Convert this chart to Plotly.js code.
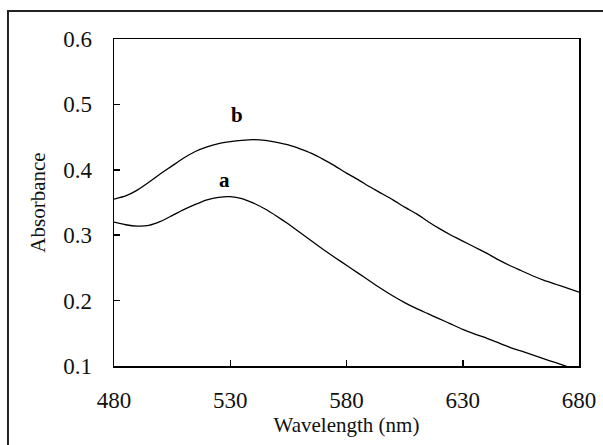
<!DOCTYPE html>
<html>
<head>
<meta charset="utf-8">
<script src="https://cdn.plot.ly/plotly-3.0.1.min.js"></script>
<style>html,body{margin:0;padding:0;background:#fff;}#chart{width:603px;height:445px;}</style>
</head>
<body>
<div id="chart"></div>
<script>
var wavelengthB = [480,485,490,495,500,505,510,515,520,525,530,535,540,545,550,555,560,565,570,575,580,585,590,595,600,605,610,615,620,625,630,635,640,645,650,655,660,665,670,675,680];
var absorbanceB = [0.355,0.360,0.369,0.381,0.394,0.406,0.418,0.428,0.435,0.440,0.443,0.445,0.446,0.445,0.442,0.438,0.432,0.425,0.416,0.406,0.395,0.385,0.374,0.364,0.354,0.343,0.333,0.321,0.310,0.300,0.291,0.282,0.273,0.263,0.254,0.246,0.238,0.231,0.225,0.219,0.213];
var wavelengthA = [480,485,490,495,500,505,510,515,520,525,530,535,540,545,550,555,560,565,570,575,580,585,590,595,600,605,610,615,620,625,630,635,640,645,650,655,660,665,670,675];
var absorbanceA = [0.320,0.316,0.314,0.315,0.321,0.330,0.339,0.347,0.354,0.358,0.359,0.356,0.349,0.340,0.329,0.317,0.304,0.291,0.278,0.266,0.254,0.242,0.230,0.218,0.207,0.197,0.188,0.180,0.172,0.164,0.156,0.149,0.143,0.136,0.129,0.123,0.117,0.111,0.105,0.099];
var xTicks = [480,530,580,630,680];
var yTicks = [0.1,0.2,0.3,0.4,0.5,0.6];
var curveLabels = [{text:'a', x:527.7, y:0.384},{text:'b', x:533, y:0.484}];

var font = "Times New Roman, Liberation Serif, serif";
var traces = [
  {x: wavelengthA, y: absorbanceA, mode:'lines', line:{color:'#000', width:1.3, shape:'spline', smoothing:0.4}, name:'a'},
  {x: wavelengthB, y: absorbanceB, mode:'lines', line:{color:'#000', width:1.3, shape:'spline', smoothing:0.4}, name:'b'}
];
var layout = {
  width:603, height:445,
  margin:{l:114, r:24, t:39, b:79},
  paper_bgcolor:'#fff', plot_bgcolor:'#fff',
  showlegend:false,
  font:{family:font, size:20, color:'#000'},
  xaxis:{range:[480,680], tickmode:'array', tickvals:xTicks, ticktext:xTicks.map(String), ticks:'inside', ticklen:6, tickwidth:1.5, tickcolor:'#000',
    showline:true, linecolor:'#000', linewidth:1.5, mirror:true, showgrid:false, zeroline:false,
    ticklabelstandoff:13, tickfont:{family:font, size:23, color:'#111'},
    title:{text:'Wavelength (nm)', font:{family:font, size:21, color:'#111'}, standoff:1}},
  yaxis:{range:[0.1,0.6], tickmode:'array', tickvals:yTicks, ticktext:yTicks.map(function(v){return v.toFixed(1);}), ticks:'inside', ticklen:6, tickwidth:1.5, tickcolor:'#000',
    showline:true, linecolor:'#000', linewidth:1.5, mirror:true, showgrid:false, zeroline:false,
    ticklabelstandoff:16, tickfont:{family:font, size:23, color:'#111'},
    title:{text:'Absorbance', font:{family:font, size:21, color:'#111'}, standoff:12}},
  shapes:[{type:'rect', xref:'paper', yref:'paper', x0:-0.228, x1:2, y0:-2, y1:1.0856, line:{color:'#222', width:2}, fillcolor:'rgba(0,0,0,0)', layer:'below'}],
  annotations: curveLabels.map(function(c){return {x:c.x, y:c.y, text:'<b>'+c.text+'</b>', showarrow:false, font:{family:font, size:21, color:'#000'}};})
};
Plotly.newPlot('chart', traces, layout, {displayModeBar:false, staticPlot:true});
</script>
</body>
</html>
